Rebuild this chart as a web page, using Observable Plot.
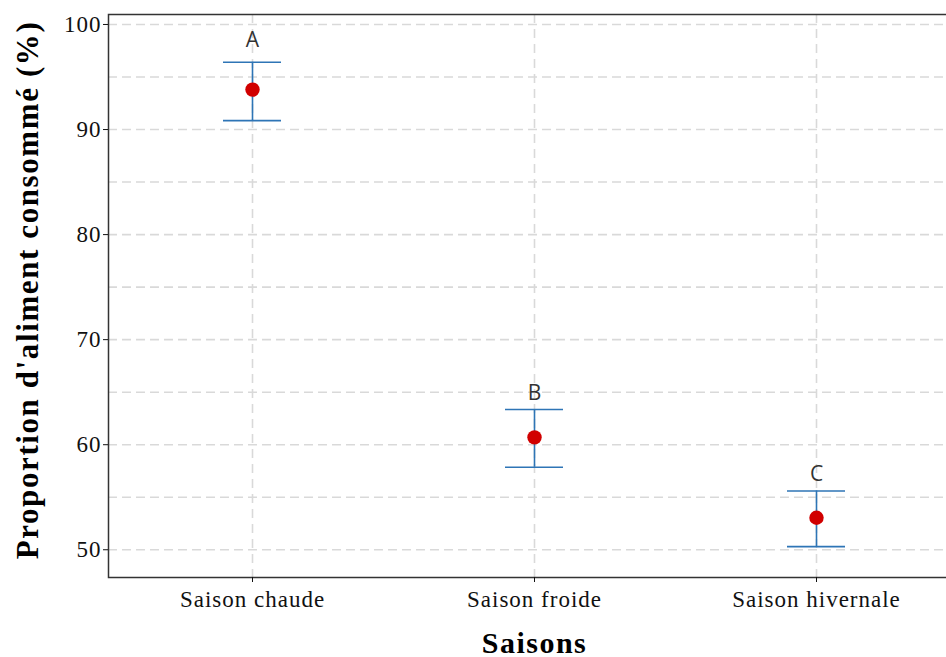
<!DOCTYPE html>
<html>
<head>
<meta charset="utf-8">
<script src="https://cdn.jsdelivr.net/npm/d3@7"></script>
<script src="https://cdn.jsdelivr.net/npm/@observablehq/plot@0.6"></script>
<style>
  html, body { margin: 0; padding: 0; background: #fff; overflow: hidden; width: 946px; height: 657px; }
  #chart svg { max-width: none !important; display: block; }
  #chart g[aria-label="x-axis tick label"] text,
  #chart g[aria-label="y-axis tick label"] text { letter-spacing: 1px; }
  #chart .ytitle text { letter-spacing: 1.6px; }
  #chart .xtitle text { letter-spacing: 1.5px; }
</style>
</head>
<body>
<div id="chart"></div>
<script>
// ---- data ----
const seasons = ["Saison chaude", "Saison froide", "Saison hivernale"];
const means = [93.8, 60.7, 53.05];
const upperBounds = [96.4, 63.35, 55.6];
const lowerBounds = [90.85, 57.85, 50.3];
const groupLetters = ["A", "B", "C"];
const letterPositions = [97.9, 64.3, 56.5];
const yTicks = [50, 60, 70, 80, 90, 100];
const yGridValues = [50, 55, 60, 65, 70, 75, 80, 85, 90, 95, 100];
const yDomain = [47.36, 100.95];
const yTitle = "Proportion d'aliment consommé (%)";
const xTitle = "Saisons";

const rows = seasons.map((s, i) => ({
  season: s,
  mean: means[i],
  upper: upperBounds[i],
  lower: lowerBounds[i],
  letter: groupLetters[i],
  ly: letterPositions[i]
}));

const gridStyle = { stroke: "#d9d9d9", strokeOpacity: 1, strokeWidth: 1.6 };
const barColor = "#2e75b6";

const chart = Plot.plot({
  width: 960,
  height: 657,
  marginLeft: 108,
  marginRight: 0,
  marginTop: 14,
  marginBottom: 80,
  style: { fontFamily: "'Liberation Serif', 'Times New Roman', serif", background: "#fff", maxWidth: "none" },
  x: { type: "point", domain: seasons, padding: 0.51, label: null },
  y: { domain: yDomain, label: null },
  marks: [
    Plot.gridY(yGridValues, { ...gridStyle, strokeDasharray: "9,5" }),
    Plot.gridX(seasons, { ...gridStyle, strokeDasharray: "9,6" }),
    Plot.frame({ stroke: "#333", strokeWidth: 1.5 }),
    Plot.axisY(yTicks, { tickSize: 5, tickPadding: 2, fontSize: 23, color: "#111", label: null }),
    Plot.axisX({ tickSize: 5, tickPadding: 8, fontSize: 23, color: "#111", label: null }),
    Plot.ruleX(rows, { x: "season", y1: "lower", y2: "upper", stroke: barColor, strokeWidth: 1.6 }),
    Plot.ruleY(rows, { x1: "season", x2: "season", y: "upper", insetLeft: -29, insetRight: -29, stroke: barColor, strokeWidth: 1.6 }),
    Plot.ruleY(rows, { x1: "season", x2: "season", y: "lower", insetLeft: -29, insetRight: -29, stroke: barColor, strokeWidth: 1.6 }),
    Plot.dot(rows, { x: "season", y: "mean", r: 7.2, fill: "#d10000", stroke: "none" }),
    Plot.text(rows, { x: "season", y: "ly", text: "letter", lineAnchor: "bottom", fontFamily: "'Open Sans', sans-serif", fontSize: 21, fill: "#333" }),
    Plot.text([yTitle], { text: d => d, frameAnchor: "left", textAnchor: "middle", lineAnchor: "bottom", rotate: -90, dx: -71, dy: -6, fontSize: 31, fontWeight: "bold", fill: "#000", className: "ytitle" }),
    Plot.text([xTitle], { text: d => d, frameAnchor: "bottom", textAnchor: "middle", lineAnchor: "bottom", dy: 75, fontSize: 30, fontWeight: "bold", fill: "#000", className: "xtitle" })
  ]
});
document.getElementById("chart").appendChild(chart);
</script>
</body>
</html>
